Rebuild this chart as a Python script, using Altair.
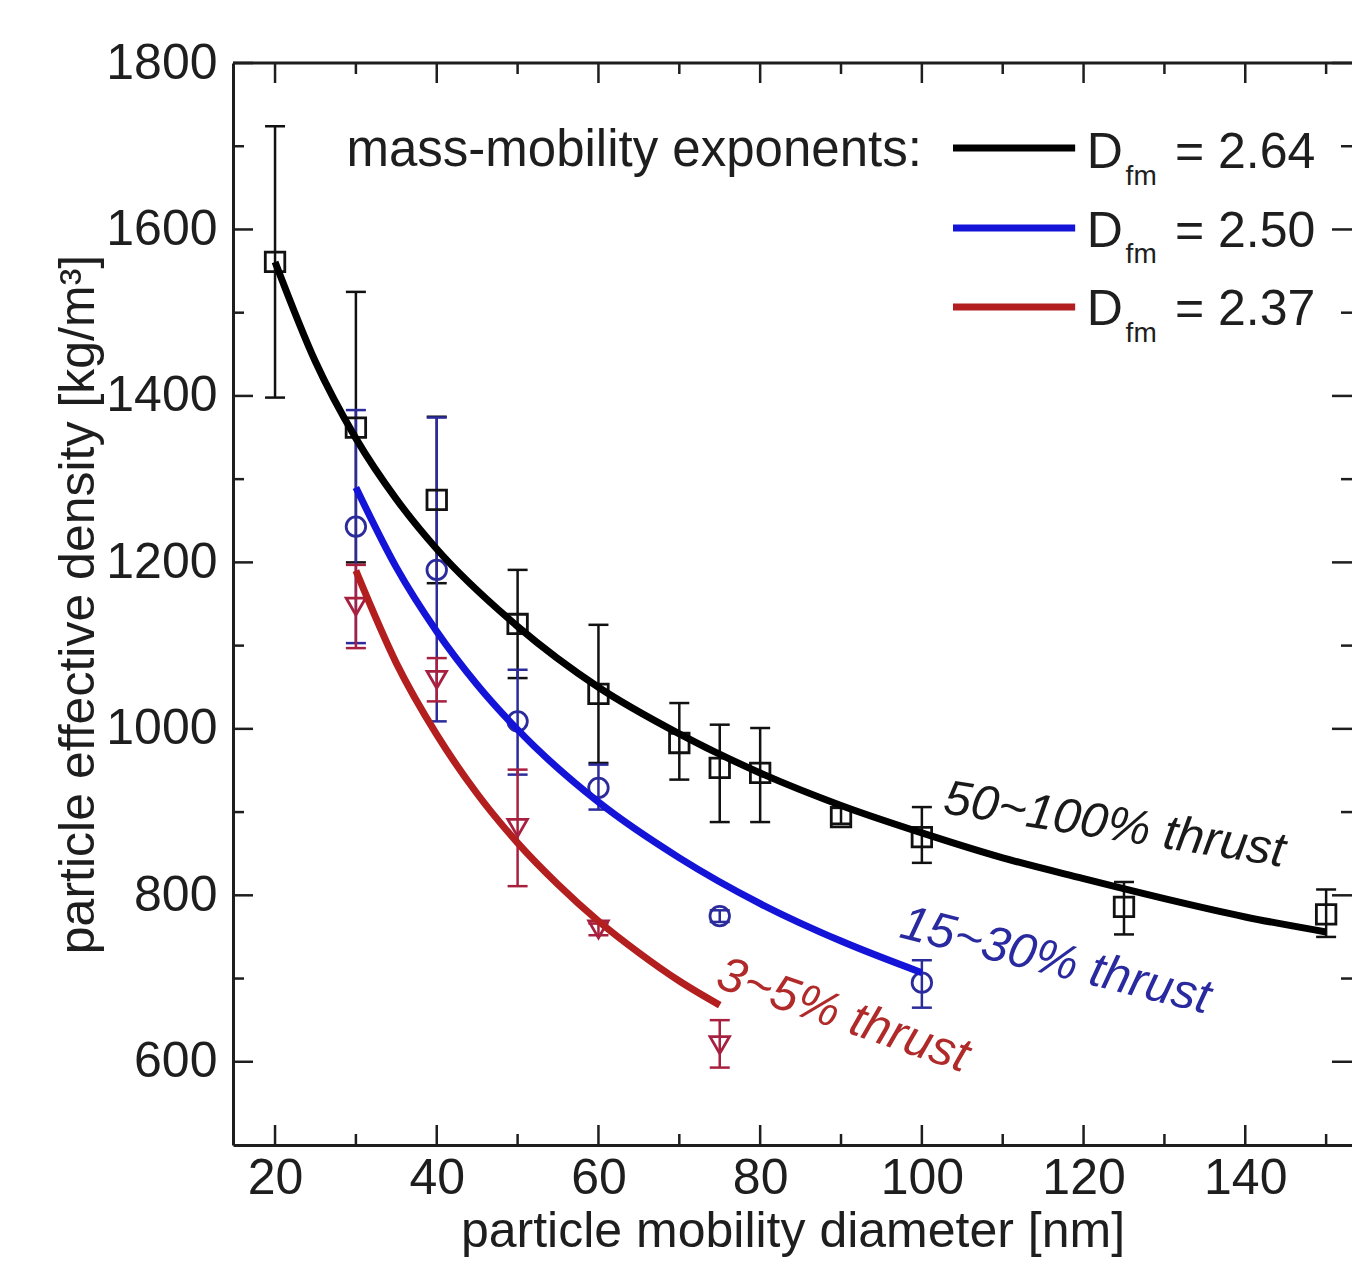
import altair as alt
import pandas as pd

# ---------------- data ----------------
series_names = ["50~100% thrust", "15~30% thrust", "3~5% thrust"]
exponent_labels = ["= 2.64", "= 2.50", "= 2.37"]

black_d = [20, 30, 40, 50, 60, 70, 75, 80, 90, 100, 125, 150]
black_rho = [1561, 1362, 1275, 1126, 1042, 983, 953, 947, 894, 870, 786, 777]
black_lo = [1398, 1200, 1175, 1061, 959, 939, 888, 888, 886, 839, 753, 750]
black_hi = [1724, 1525, 1375, 1191, 1125, 1031, 1005, 1001, 905, 906, 816, 807]

blue_d = [30, 40, 50, 60, 75, 100]
blue_rho = [1243, 1191, 1009, 929, 775, 695]
blue_lo = [1103, 1009, 945, 903, 768, 665]
blue_hi = [1383, 1374, 1071, 957, 782, 722]

red_d = [30, 40, 50, 60, 75]
red_rho = [1147, 1059, 881, 759, 620]
red_lo = [1097, 1033, 811, 752, 593]
red_hi = [1197, 1085, 951, 766, 650]

fit_black_d = [20, 25, 30, 35, 40, 50, 60, 70, 80, 90, 100, 110, 120, 130, 140, 150]
fit_black_rho = [1561, 1441, 1349, 1276, 1216, 1123, 1050, 994, 947, 908, 875, 845, 820, 796, 774, 756]
fit_blue_d = [30, 35, 40, 45, 50, 60, 70, 80, 90, 100]
fit_blue_rho = [1290, 1194, 1117, 1053, 999, 912, 845, 790, 745, 707]
fit_red_d = [30, 35, 40, 45, 50, 55, 60, 65, 70, 75]
fit_red_rho = [1190, 1079, 993, 922, 863, 813, 769, 731, 697, 668]

x_major_ticks = [20, 40, 60, 80, 100, 120, 140]
x_minor_ticks = [30, 50, 70, 90, 110, 130, 150]
y_major_ticks = [600, 800, 1000, 1200, 1400, 1600, 1800]
y_minor_ticks = [700, 900, 1100, 1300, 1500, 1700]

# ---------------- styling ----------------
W, H = 1119, 1082
FONT = "Liberation Sans"
FRAME = "#1e1e1e"
TXT = "#1e1e1e"
line_colors = ["#000000", "#1414d8", "#b31e1e"]
marker_colors = ["#111111", "#2b2b9c", "#a82040"]
label_colors = ["#1a1a1a", "#2a2aa0", "#b02a2a"]
shapes = ["square", "circle", "triangle-down"]

xs = alt.Scale(domain=[14.8, 153.2], nice=False, zero=False)
ys = alt.Scale(domain=[500, 1800], nice=False, zero=False)

x_axis = alt.Axis(values=x_major_ticks, title="particle mobility diameter [nm]",
                  format="d", ticks=False, domain=True, domainColor=FRAME, domainWidth=3,
                  grid=False, labelFontSize=50, labelPadding=8, labelColor=TXT,
                  titleFontSize=50, titlePadding=3, titleColor=TXT,
                  titleFontWeight="normal", labelFlush=False, labelOverlap=False)
y_axis = alt.Axis(values=y_major_ticks, title="particle effective density [kg/m³]",
                  format="d", ticks=False, domain=True, domainColor=FRAME, domainWidth=3,
                  grid=False, labelFontSize=50, labelPadding=16, labelColor=TXT,
                  titleFontSize=50, titlePadding=2, titleColor=TXT,
                  titleFontWeight="normal", labelFlush=False, labelOverlap=False)


def X(field):
    return alt.X(field, scale=xs, axis=x_axis)


def Y(field):
    return alt.Y(field, scale=ys, axis=y_axis)


series = [
    (black_d, black_rho, black_lo, black_hi, fit_black_d, fit_black_rho),
    (blue_d, blue_rho, blue_lo, blue_hi, fit_blue_d, fit_blue_rho),
    (red_d, red_rho, red_lo, red_hi, fit_red_d, fit_red_rho),
]

layers = []
err_layers, marker_layers, line_layers = [], [], []
for i, (d, rho, lo, hi, fd, frho) in enumerate(series):
    pts = pd.DataFrame({"d": d, "rho": rho, "lo": lo, "hi": hi})
    caps = pd.DataFrame({"d": d + d, "cap": lo + hi})
    fit = pd.DataFrame({"d": fd, "rho": frho})
    err_layers.append(
        alt.Chart(pts).mark_rule(color=marker_colors[i], strokeWidth=2.5).encode(
            x=X("d:Q"), y=Y("lo:Q"), y2="hi:Q")
    )
    err_layers.append(
        alt.Chart(caps).mark_tick(orient="horizontal", size=20, thickness=2.5,
                                  color=marker_colors[i], opacity=1).encode(
            x=X("d:Q"), y=Y("cap:Q"))
    )
    marker_layers.append(
        alt.Chart(pts).mark_point(shape=shapes[i], filled=False, size=380,
                                  strokeWidth=2.8, color=marker_colors[i], opacity=1).encode(
            x=X("d:Q"), y=Y("rho:Q"))
    )
    line_layers.append(
        alt.Chart(fit).mark_line(color=line_colors[i], strokeWidth=7,
                                 interpolate="monotone").encode(
            x=X("d:Q"), y=Y("rho:Q"))
    )

layers += err_layers + marker_layers + line_layers


# ---------------- frame ticks (inward, major + minor) ----------------
def xticks(vals, length, top):
    df = pd.DataFrame({"v": vals})
    y1 = 0 if top else H
    y2 = length if top else H - length
    return alt.Chart(df).mark_rule(color=FRAME, strokeWidth=2.5).encode(
        x=X("v:Q"), y=alt.value(y1), y2=alt.value(y2))


def yticks(vals, length, right):
    df = pd.DataFrame({"v": vals})
    x1 = W if right else 0
    x2 = W - length if right else length
    return alt.Chart(df).mark_rule(color=FRAME, strokeWidth=2.5).encode(
        y=Y("v:Q"), x=alt.value(x1), x2=alt.value(x2))


for top in (False, True):
    layers.append(xticks(x_major_ticks, 20, top))
    layers.append(xticks(x_minor_ticks, 11, top))
for right in (False, True):
    layers.append(yticks(y_major_ticks, 20, right))
    layers.append(yticks(y_minor_ticks, 11, right))

# top border of the frame
layers.append(
    alt.Chart(pd.DataFrame({"a": [0]})).mark_rule(color=FRAME, strokeWidth=3).encode(
        x=alt.value(0), x2=alt.value(W), y=alt.value(0))
)

# ---------------- curve labels ----------------
label_pos = [(102.5, 899, 9), (97.05, 750, 14), (74.3, 690, 19)]
for i, (lx, ly, ang) in enumerate(label_pos):
    df = pd.DataFrame({"x": [lx], "y": [ly], "t": [series_names[i]]})
    layers.append(
        alt.Chart(df).mark_text(align="left", baseline="alphabetic", angle=ang,
                                fontSize=49, fontStyle="italic", font=FONT,
                                color=label_colors[i]).encode(
            x=X("x:Q"), y=Y("y:Q"), text="t:N")
    )

# ---------------- legend (drawn in the plot) ----------------
leg_line_y = [1697.9, 1601.8, 1506.8]
leg_base_y = [1673.8, 1578.9, 1485.2]
leg_sub_y = [1653.4, 1559.7, 1464.8]

layers.append(
    alt.Chart(pd.DataFrame({"x": [100.0], "y": [1676.0], "t": ["mass-mobility exponents:"]}))
    .mark_text(align="right", baseline="alphabetic", fontSize=51, font=FONT, color=TXT)
    .encode(x=X("x:Q"), y=Y("y:Q"), text="t:N")
)
for i in range(3):
    layers.append(
        alt.Chart(pd.DataFrame({"x": [103.85], "x2": [118.96], "y": [leg_line_y[i]]}))
        .mark_rule(color=line_colors[i], strokeWidth=7)
        .encode(x=X("x:Q"), x2="x2:Q", y=Y("y:Q"))
    )
    layers.append(
        alt.Chart(pd.DataFrame({"x": [120.4], "y": [leg_base_y[i]], "t": ["D"]}))
        .mark_text(align="left", baseline="alphabetic", fontSize=50, font=FONT, color=TXT)
        .encode(x=X("x:Q"), y=Y("y:Q"), text="t:N")
    )
    layers.append(
        alt.Chart(pd.DataFrame({"x": [125.2], "y": [leg_sub_y[i]], "t": ["fm"]}))
        .mark_text(align="left", baseline="alphabetic", fontSize=28, font=FONT, color=TXT)
        .encode(x=X("x:Q"), y=Y("y:Q"), text="t:N")
    )
    layers.append(
        alt.Chart(pd.DataFrame({"x": [131.3], "y": [leg_base_y[i]], "t": [exponent_labels[i]]}))
        .mark_text(align="left", baseline="alphabetic", fontSize=50, font=FONT, color=TXT)
        .encode(x=X("x:Q"), y=Y("y:Q"), text="t:N")
    )

chart = (
    alt.layer(*layers)
    .properties(width=W, height=H,
                autosize=alt.AutoSizeParams(type="none"),
                padding={"left": 225, "top": 55, "right": 0, "bottom": 117})
    .configure_view(stroke=None)
    .configure(font=FONT, background="white")
)

chart.save("out.html", embed_options={"renderer": "svg", "actions": False})
